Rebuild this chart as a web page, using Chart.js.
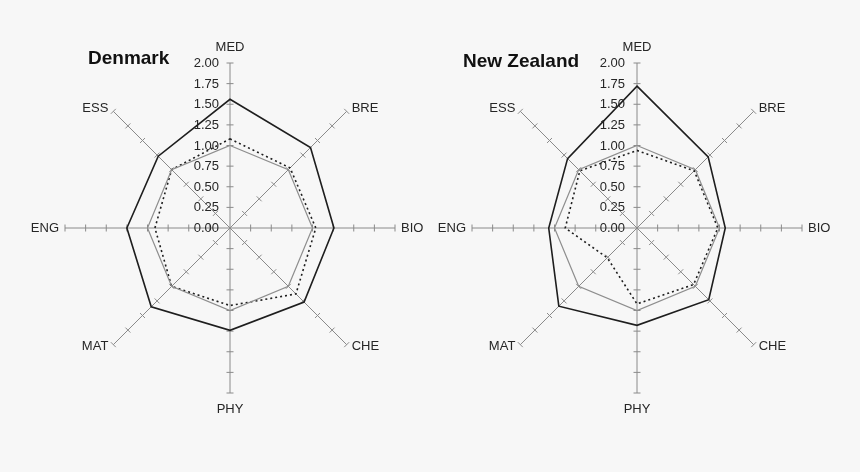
<!DOCTYPE html>
<html>
<head>
<meta charset="utf-8">
<script src="https://cdn.jsdelivr.net/npm/chart.js@4"></script>
<style>
  html, body { margin: 0; padding: 0; background: #f7f7f7; }
  body { width: 860px; height: 472px; position: relative; overflow: hidden; }
  canvas { position: absolute; top: 0; }
  #c1 { left: 0; }
  #c2 { left: 430px; }
</style>
</head>
<body>
<canvas id="c1" width="430" height="472"></canvas>
<canvas id="c2" width="430" height="472"></canvas>
<script>
// ---- data ----
const categories = ['MED', 'BRE', 'BIO', 'CHE', 'PHY', 'MAT', 'ENG', 'ESS'];
const tickValues = [0, 0.25, 0.5, 0.75, 1.0, 1.25, 1.5, 1.75, 2.0];
const tickLabels = ['0.00', '0.25', '0.50', '0.75', '1.00', '1.25', '1.50', '1.75', '2.00'];

const titleDenmark = 'Denmark';
const denmarkSolid  = [1.56, 1.38, 1.26, 1.27, 1.24, 1.35, 1.25, 1.23];
const denmarkDotted = [1.08, 1.03, 1.04, 1.13, 0.94, 1.00, 0.91, 1.00];
const denmarkGray   = [1.00, 1.00, 1.00, 1.00, 1.00, 1.00, 1.00, 1.00];

const titleNZ = 'New Zealand';
const nzSolid  = [1.72, 1.22, 1.07, 1.23, 1.18, 1.34, 1.07, 1.19];
const nzDotted = [0.94, 0.98, 0.98, 0.97, 0.92, 0.51, 0.87, 0.98];
const nzGray   = [1.00, 1.00, 1.00, 1.00, 1.00, 1.00, 1.00, 1.00];

// ---- styling ----
const AXIS = '#8a8a8a';
const TEXT = '#262626';
const FONT = '"Liberation Sans", Arial, Helvetica, sans-serif';
const RADIUS = 165;

function makeChart(canvasId, title, solid, dotted, gray, cx, cy, titleX, titleY, tickGap) {
  const decor = {
    id: 'decor' + canvasId,
    beforeDatasetsDraw(chart) {
      const s = chart.scales.r;
      const ctx = chart.ctx;
      ctx.save();
      ctx.strokeStyle = AXIS;
      ctx.lineWidth = 1;
      for (let i = 0; i < categories.length; i++) {
        const a = s.getIndexAngle(i) - Math.PI / 2;
        const px = -Math.sin(a), py = Math.cos(a);
        for (let k = 1; k < tickValues.length; k++) {
          const p = s.getPointPosition(i, s.getDistanceFromCenterForValue(tickValues[k]));
          ctx.beginPath();
          ctx.moveTo(p.x - px * 3.5, p.y - py * 3.5);
          ctx.lineTo(p.x + px * 3.5, p.y + py * 3.5);
          ctx.stroke();
        }
      }
      // tick labels along first axis
      ctx.fillStyle = TEXT;
      ctx.font = '13px ' + FONT;
      ctx.textAlign = 'right';
      ctx.textBaseline = 'middle';
      for (let k = 0; k < tickValues.length; k++) {
        const p = s.getPointPosition(0, s.getDistanceFromCenterForValue(tickValues[k]));
        ctx.fillText(tickLabels[k], p.x - tickGap, p.y + 0.5);
      }
      ctx.restore();
    },
    afterDraw(chart) {
      const s = chart.scales.r;
      const ctx = chart.ctx;
      ctx.save();
      ctx.fillStyle = TEXT;
      ctx.font = '13px ' + FONT;
      ctx.textBaseline = 'middle';
      for (let i = 0; i < categories.length; i++) {
        const p = s.getPointPosition(i, s.getDistanceFromCenterForValue(2.0));
        const ang = Math.round(s.getIndexAngle(i) * 180 / Math.PI) % 360;
        let x = p.x, y = p.y, align = 'center';
        if (ang === 0) { y -= 16; }
        else if (ang === 180) { y += 16; }
        else if (ang === 90) { x += 6; align = 'left'; }
        else if (ang === 270) { x -= 6; align = 'right'; }
        else if (ang < 90) { x += 5; y -= 3; align = 'left'; }
        else if (ang < 180) { x += 5; y += 2; align = 'left'; }
        else if (ang < 270) { x -= 5; y += 2; align = 'right'; }
        else { x -= 5; y -= 3; align = 'right'; }
        ctx.textAlign = align;
        ctx.fillText(categories[i], x, y);
      }
      ctx.font = 'bold 19px ' + FONT;
      ctx.fillStyle = '#111';
      ctx.textAlign = 'left';
      ctx.fillText(title, titleX, titleY);
      ctx.restore();
    }
  };

  return new Chart(document.getElementById(canvasId), {
    type: 'radar',
    data: {
      labels: categories,
      datasets: [
        { data: gray,   borderColor: '#8e8e8e', borderWidth: 1.2, fill: false, pointRadius: 0 },
        { data: dotted, borderColor: '#1e1e1e', borderWidth: 1.6, borderDash: [2, 3], fill: false, pointRadius: 0 },
        { data: solid,  borderColor: '#1e1e1e', borderWidth: 1.6, fill: false, pointRadius: 0 }
      ]
    },
    options: {
      responsive: false,
      animation: false,
      layout: { padding: 0 },
      plugins: { legend: { display: false }, tooltip: { enabled: false }, title: { display: false } },
      elements: { line: { tension: 0 } },
      scales: {
        r: {
          min: 0, max: 2,
          ticks: { display: false, stepSize: 0.25 },
          grid: { display: false },
          angleLines: { display: true, color: AXIS, lineWidth: 1 },
          pointLabels: { display: false },
          afterFit(scale) {
            scale.drawingArea = RADIUS;
            scale.xCenter = cx;
            scale.yCenter = cy;
          }
        }
      }
    },
    plugins: [decor]
  });
}

makeChart('c1', titleDenmark, denmarkSolid, denmarkDotted, denmarkGray, 230, 228, 88, 59, 11);
makeChart('c2', titleNZ, nzSolid, nzDotted, nzGray, 207, 228, 33, 62, 12);
</script>
</body>
</html>
